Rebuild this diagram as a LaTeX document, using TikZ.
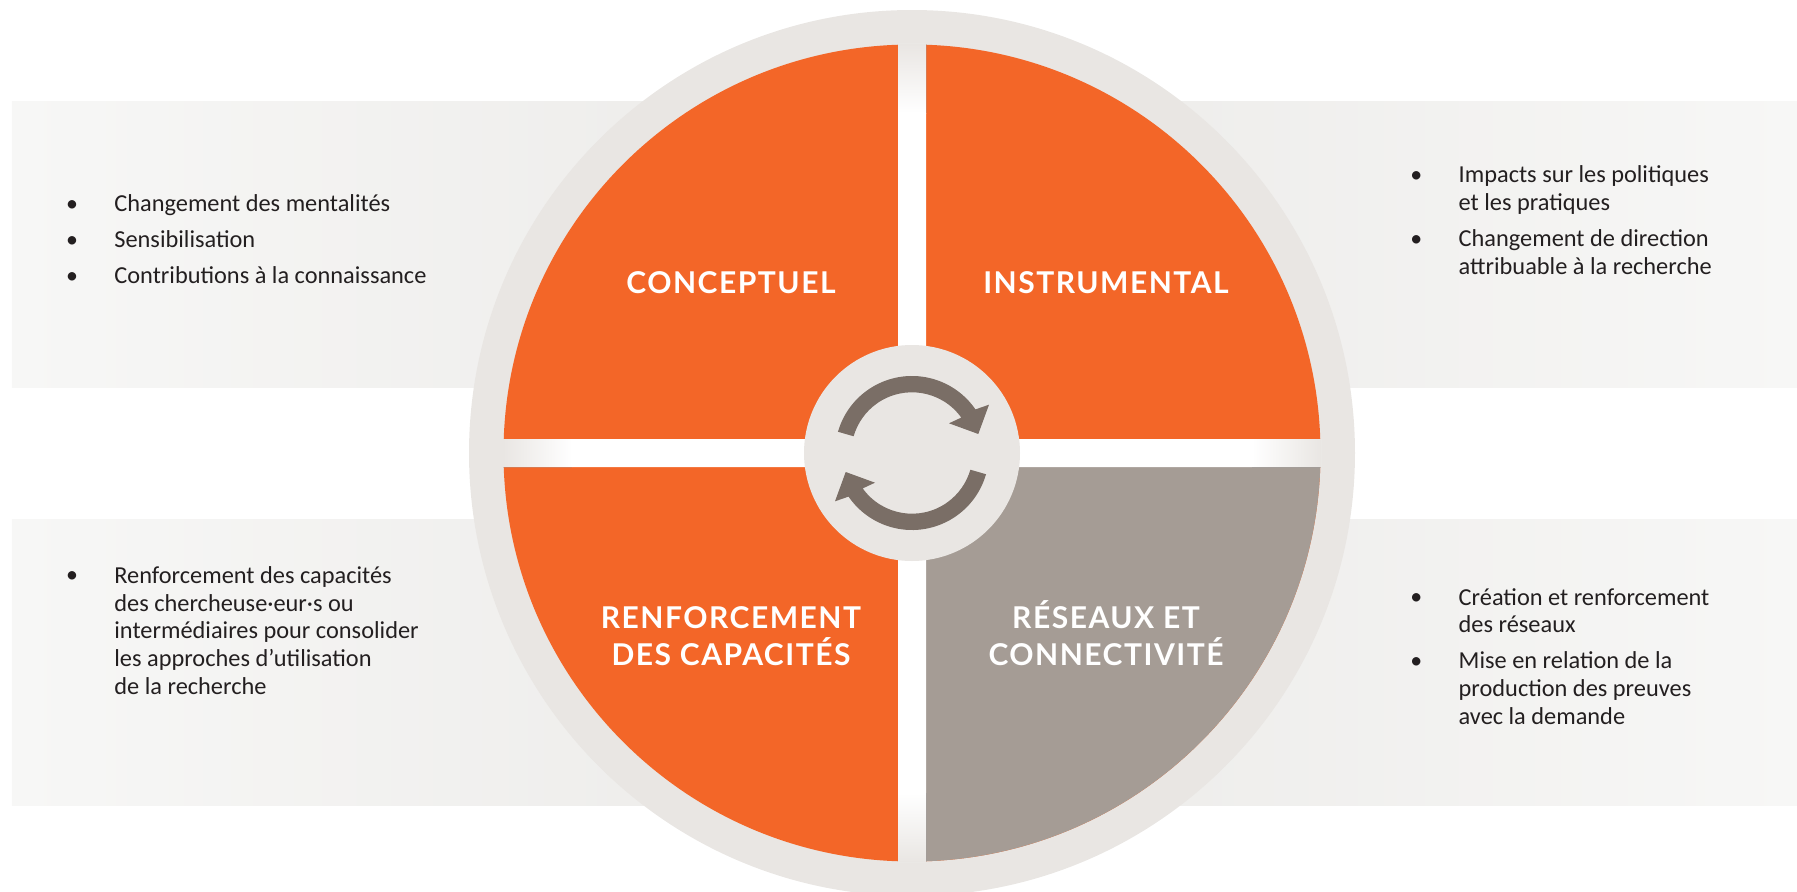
\documentclass[tikz,border=0pt]{standalone}
\usepackage{fontspec}
\setmainfont{Carlito}
\newfontfamily\titlefont[LetterSpace=5]{Lato}

\definecolor{ringgrey}{HTML}{E9E6E3}
\definecolor{quadorange}{HTML}{F36628}
\definecolor{quadgrey}{HTML}{A59C95}
\definecolor{arrowgrey}{HTML}{7A6E66}
\definecolor{bandlight}{HTML}{F7F7F6}
\definecolor{banddark}{HTML}{EEEDEB}
\definecolor{inktext}{HTML}{231F20}

\tikzset{
    itemtext/.style={anchor=base west, inner sep=0pt, align=left, text=inktext,
        font=\fontsize{6.93}{7.88}\selectfont},
    bulletdot/.style={anchor=base, inner sep=0pt, text=inktext,
        font=\fontsize{6.8}{6.8}\selectfont},
    quadtitle/.style={anchor=base, inner sep=0pt, align=center, text=white,
        font=\titlefont\bfseries\fontsize{8.54}{10.67}\selectfont}
}

\begin{document}
\begin{tikzpicture}

    % Page
    \clip (0cm,0cm) rectangle (17.97cm,8.91cm);

    % Bands
    \fill[left color=bandlight, right color=banddark] (0.12cm,5.04cm) rectangle (7cm,7.90cm);
    \fill[left color=bandlight, right color=banddark] (0.12cm,0.86cm) rectangle (7cm,3.72cm);
    \fill[left color=banddark, right color=bandlight] (11.2cm,5.04cm) rectangle (17.97cm,7.90cm);
    \fill[left color=banddark, right color=bandlight] (11.2cm,0.86cm) rectangle (17.97cm,3.72cm);

    % Wheel
    \fill[ringgrey] (9.12cm,4.38cm) circle (4.43cm);
    \begin{scope}
        \clip (9.12cm,4.38cm) circle (4.085cm);
        \fill[quadorange] (5cm,0.2cm) rectangle (13.3cm,8.6cm);
        \fill[quadgrey] (9.12cm,4.38cm) rectangle (13.3cm,0.2cm);
    \end{scope}

    % Gaps
    \begin{scope}
        \clip (5.03cm,4.24cm) rectangle (13.21cm,4.52cm)
              (8.98cm,0.29cm) rectangle (9.26cm,8.47cm);
        \fill[white] (5cm,0.2cm) rectangle (13.3cm,8.6cm);
        \fill[left color=ringgrey, right color=white] (5.03cm,4.1cm) rectangle (5.72cm,4.66cm);
        \fill[left color=white, right color=ringgrey] (12.52cm,4.1cm) rectangle (13.21cm,4.66cm);
        \fill[top color=ringgrey, bottom color=white] (8.84cm,8.47cm) rectangle (9.4cm,7.78cm);
        \fill[top color=white, bottom color=ringgrey] (8.84cm,0.98cm) rectangle (9.4cm,0.29cm);
    \end{scope}

    % Hub
    \fill[ringgrey] (9.12cm,4.38cm) circle (1.08cm);
    \foreach \ang in {0,180} {
        \fill[arrowgrey, rotate around={\ang:(9.12cm,4.38cm)}, shift={(9.12cm,4.38cm)}]
            (164:0.77cm) arc[start angle=164, end angle=34.5, radius=0.77cm]
            -- (0.77cm,0.483cm) -- (0.663cm,0.19cm) -- (0.37cm,0.297cm) -- (35.7:0.607cm)
            arc[start angle=35.7, end angle=164, radius=0.607cm] -- cycle;
    }

    % Quadrant titles
    \node[quadtitle] (conceptuel) at (7.31cm,5.98cm) {CONCEPTUEL};
    \node[quadtitle] (instrumental) at (11.06cm,5.98cm) {INSTRUMENTAL};
    \node[quadtitle] (renforcement) at (7.31cm,2.253cm) {RENFORCEMENT\\DES CAPACITÉS};
    \node[quadtitle] (reseaux) at (11.06cm,2.253cm) {RÉSEAUX ET\\CONNECTIVITÉ};

    % Bullets
    \foreach \bx/\by/\bname in {0.72/6.799/a, 0.72/6.439/b, 0.72/6.079/c, 0.72/3.089/d,
        14.163/7.089/e, 14.163/6.449/f, 14.163/2.869/g, 14.163/2.229/h}
        \node[bulletdot] (bullet\bname) at (\bx cm,\by cm) {•};

    % Left texts
    \node[itemtext] (mentalites) at (1.137cm,6.793cm) {Changement des mentalités};
    \node[itemtext] (sensibilisation) at (1.137cm,6.433cm) {Sensibilisation};
    \node[itemtext] (contributions) at (1.137cm,6.073cm) {Contributions à la connaissance};
    \node[itemtext] (capacites) at (1.137cm,1.967cm) {Renforcement des capacités\\des chercheuse·eur·s ou\\intermédiaires pour consolider\\les approches d’utilisation\\de la recherche};

    % Right texts
    \node[itemtext] (politiques) at (14.58cm,6.807cm) {Impacts sur les politiques\\et les pratiques};
    \node[itemtext] (direction) at (14.58cm,6.167cm) {Changement de direction\\attribuable à la recherche};
    \node[itemtext] (creation) at (14.58cm,2.583cm) {Création et renforcement\\des réseaux};
    \node[itemtext] (miseenrelation) at (14.58cm,1.667cm) {Mise en relation de la\\production des preuves\\avec la demande};

\end{tikzpicture}
\end{document}
